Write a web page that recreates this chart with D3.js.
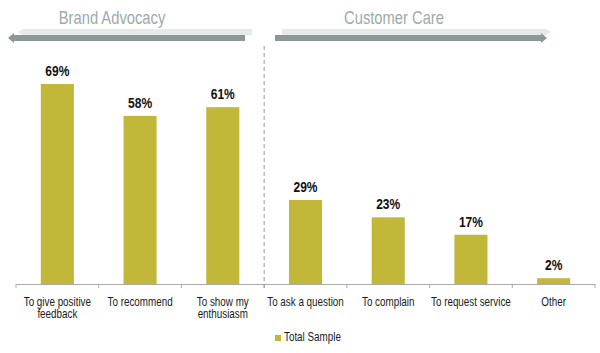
<!DOCTYPE html>
<html>
<head>
<meta charset="utf-8">
<script src="https://cdn.jsdelivr.net/npm/d3@7"></script>
<style>
  body { margin: 0; background: #fff; }
  text { font-family: "Liberation Sans", Arial, sans-serif; }
</style>
</head>
<body>
<div id="chart"></div>
<script>
// data
var categories = [
  ["To give positive", "feedback"],
  ["To recommend"],
  ["To show my", "enthusiasm"],
  ["To ask a question"],
  ["To complain"],
  ["To request service"],
  ["Other"]
];
var values = [69, 58, 61, 29, 23, 17, 2];
var groups = ["Brand Advocacy", "Customer Care"];
var seriesName = "Total Sample";

var W = 600, H = 353;
var svg = d3.select("#chart").append("svg")
  .attr("width", W).attr("height", H);

var barColor = "#c1b83a";
// the original uses a condensed face, so squeeze the text horizontally
var squeeze = 0.82;
function place(px, py, s) {
  return "translate(" + px + "," + py + ") scale(" + (s || squeeze) + ",1)";
}

var x = d3.scaleBand()
  .domain(d3.range(categories.length))
  .range([16, 595])
  .paddingInner(0.6)
  .paddingOuter(0.3);

var y = d3.scaleLinear()
  .domain([0, 69])
  .range([284, 84]);

// bars
svg.selectAll("rect.bar")
  .data(values)
  .enter().append("rect")
  .attr("class", "bar")
  .attr("x", function(d, i) { return x(i); })
  .attr("y", function(d) { return y(d); })
  .attr("width", x.bandwidth())
  .attr("height", function(d) { return y(0) - y(d); })
  .style("fill", barColor);

// value labels
svg.selectAll("text.val")
  .data(values)
  .enter().append("text")
  .attr("class", "val")
  .attr("transform", function(d, i) { return place(x(i) + x.bandwidth() / 2, y(d) - 8, 0.86); })
  .attr("text-anchor", "middle")
  .style("font-size", "14px")
  .style("font-weight", "bold")
  .style("fill", "#111")
  .text(function(d) { return d + "%"; });

// axis line and boundary ticks
var axis = svg.append("g").attr("transform", "translate(0," + y(0) + ")");
axis.append("line")
  .attr("x1", x.range()[0]).attr("x2", x.range()[1])
  .attr("y1", 0.5).attr("y2", 0.5)
  .style("stroke", "#aaa");
axis.selectAll("line.tk")
  .data(d3.range(categories.length + 1))
  .enter().append("line")
  .attr("class", "tk")
  .attr("x1", function(i) { return x.range()[0] + i * x.step(); })
  .attr("x2", function(i) { return x.range()[0] + i * x.step(); })
  .attr("y1", 0).attr("y2", 4)
  .style("stroke", "#aaa");

// category labels
var lab = axis.selectAll("text.cat")
  .data(categories)
  .enter().append("text")
  .attr("class", "cat")
  .attr("transform", function(d, i) { return place(x(i) + x.bandwidth() / 2, 22); })
  .attr("text-anchor", "middle")
  .style("font-size", "12px")
  .style("fill", "#1a1a1a");
lab.selectAll("tspan")
  .data(function(d) { return d; })
  .enter().append("tspan")
  .attr("x", 0)
  .attr("y", function(d, j) { return j * 12; })
  .text(function(d) { return d; });

// dashed divider
var divX = x.range()[0] + 3 * x.step();
svg.append("line")
  .attr("x1", divX).attr("x2", divX)
  .attr("y1", 46).attr("y2", 290)
  .style("stroke", "#999")
  .style("stroke-dasharray", "4,3");

// header arrows
function arrow(x0, x1, dir) {
  var g = svg.append("g");
  // light top band
  var lx0 = dir < 0 ? x0 + 9 : x0 + 7, lx1 = dir < 0 ? x1 + 7 : x1 + 5;
  var tipL = dir < 0 ? lx0 - 5 : lx1 + 5;
  var pl = dir < 0
    ? [[lx0, 29], [lx1, 29], [lx1, 35], [lx0, 35], [tipL, 32]]
    : [[lx0, 29], [lx1, 29], [tipL, 32], [lx1, 35], [lx0, 35]];
  g.append("polygon").attr("points", pl.join(" ")).style("fill", "#e4e9e9");
  // dark lower band
  var tip = dir < 0 ? x0 - 6 : x1 + 6;
  var pd = dir < 0
    ? [[x0, 35], [x1, 35], [x1, 41], [x0, 41], [x0, 43], [tip, 38], [x0, 33]]
    : [[x0, 35], [x1, 35], [x1, 33], [tip, 38], [x1, 43], [x1, 41], [x0, 41]];
  g.append("polygon").attr("points", pd.join(" ")).style("fill", "#8d9797");
}
arrow(14, 245, -1);
arrow(275, 541, 1);

svg.selectAll("text.grp")
  .data(groups)
  .enter().append("text")
  .attr("class", "grp")
  .attr("transform", function(d, i) { return place(i === 0 ? 112 : 394, 24); })
  .attr("text-anchor", "middle")
  .style("font-size", "18px")
  .style("fill", "#9aabab")
  .text(function(d) { return d; });

// legend
var leg = svg.append("g").attr("transform", "translate(275,335)");
leg.append("rect").attr("width", 6).attr("height", 6).style("fill", barColor);
leg.append("text")
  .attr("transform", "translate(9,6) scale(" + squeeze + ",1)")
  .style("font-size", "12px").style("fill", "#1a1a1a")
  .text(seriesName);
</script>
</body>
</html>
